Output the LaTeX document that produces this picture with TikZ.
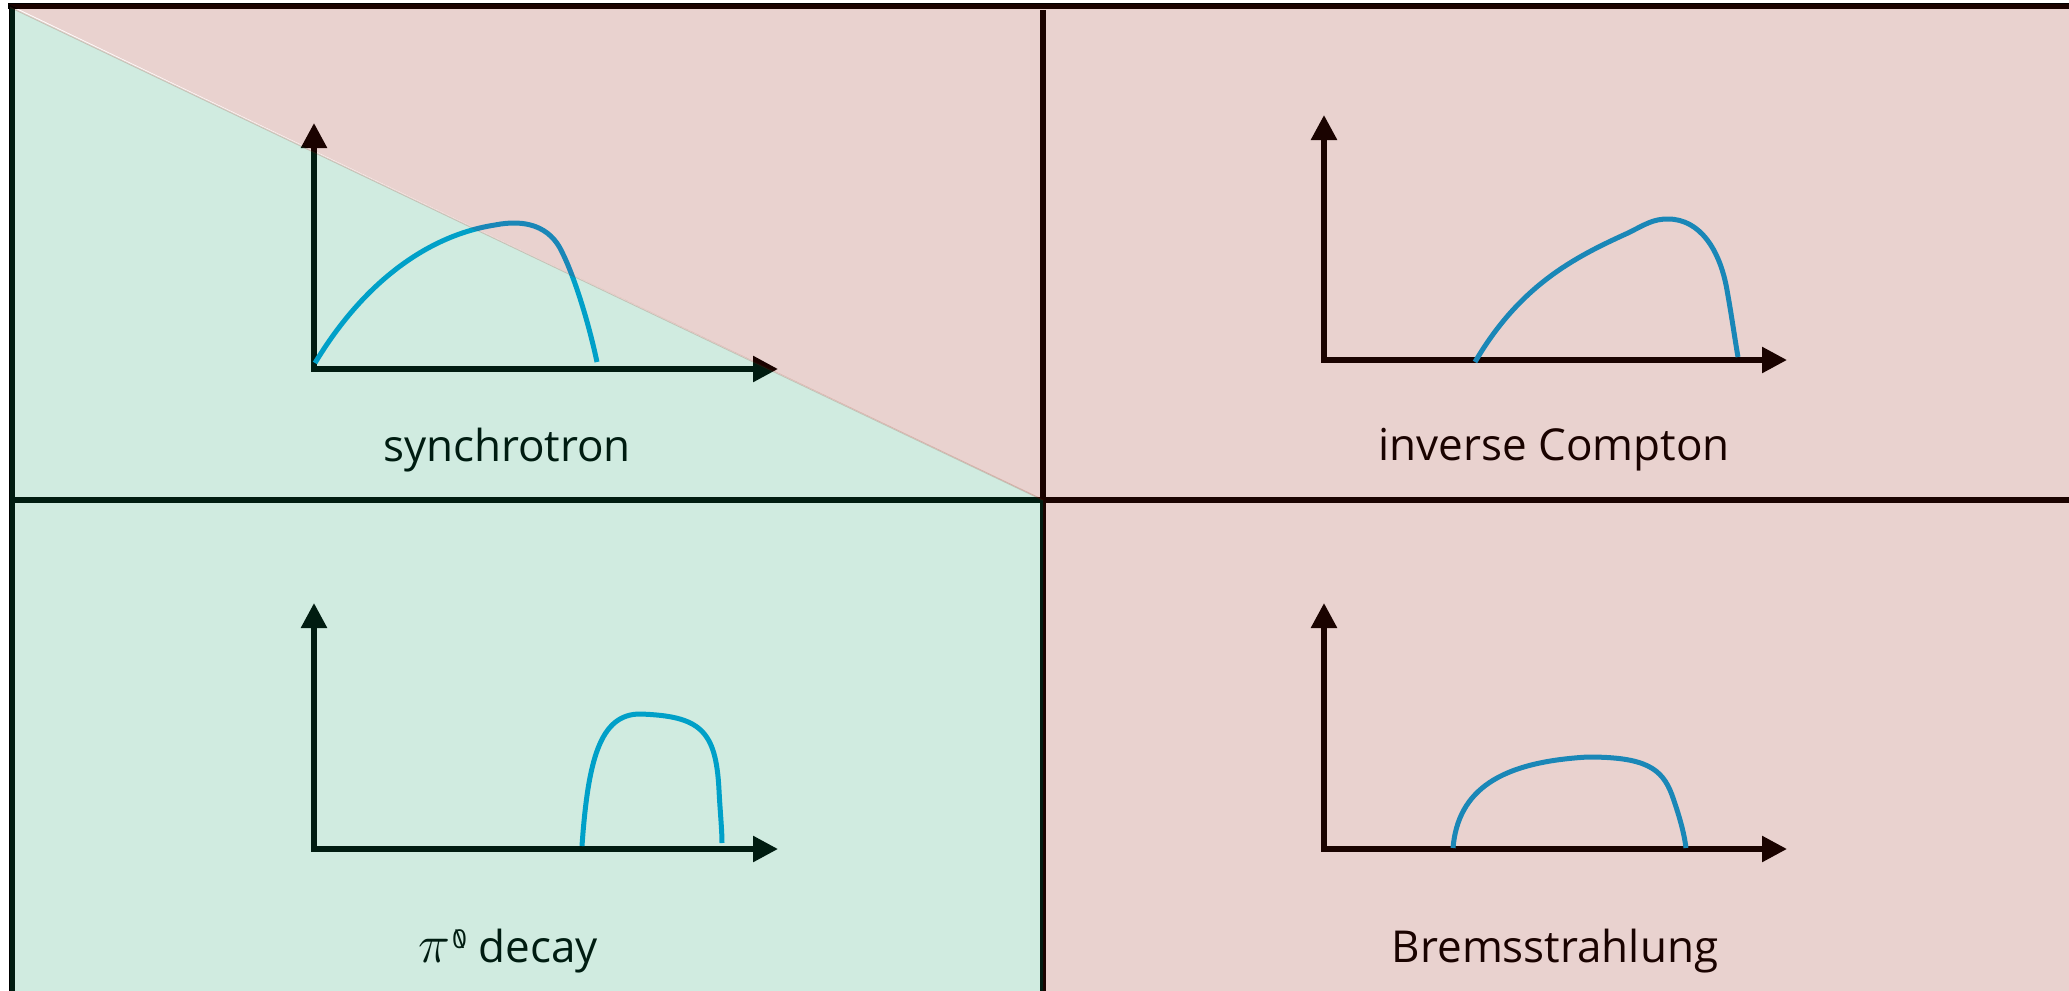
\documentclass[tikz,border=0pt]{standalone}
\usepackage{fontspec}
\setmainfont{Open Sans}
\usetikzlibrary{arrows.meta}
\definecolor{pinkov}{RGB}{139,18,0}
\definecolor{greenov}{RGB}{3,150,92}
\definecolor{curveblue}{RGB}{0,163,226}
\begin{document}
\begin{tikzpicture}[x=0.5pt,y=-0.5pt,
  gridline/.style={line width=2.6pt, black},
  axisline/.style={line width=2.8pt, black,
    {Triangle[length=12.5pt,width=12.5pt]}-{Triangle[length=12.5pt,width=12.5pt]}},
  spec/.style={line width=2.5pt, curveblue},
  lbl/.style={anchor=base, inner sep=0pt, font=\fontsize{22}{26}\selectfont},
  pinkfill/.style={fill=pinkov, fill opacity=0.19},
  greenfill/.style={fill=greenov, fill opacity=0.19}]
\useasboundingbox (0,0) rectangle (2069,991);

% frame and dividing lines
\coordinate (tl) at (8,6);
\coordinate (tr) at (2069,6);
\coordinate (lt) at (12,4);
\coordinate (lb) at (12,991);
\coordinate (mt) at (1043,10);
\coordinate (mb) at (1043,991);
\coordinate (hl) at (10,500);
\coordinate (hr) at (2069,500);
\draw[gridline] (tl) -- (tr);
\draw[gridline] (lt) -- (lb);
\draw[gridline] (mt) -- (mb);
\draw[gridline] (hl) -- (hr);

% axes
\coordinate (o1) at (314,369);  \coordinate (y1) at (314,123);  \coordinate (x1) at (778,369);
\coordinate (o2) at (1324,360); \coordinate (y2) at (1324,115); \coordinate (x2) at (1787,360);
\coordinate (o3) at (314,849);  \coordinate (y3) at (314,603);  \coordinate (x3) at (778,849);
\coordinate (o4) at (1324,849); \coordinate (y4) at (1324,603); \coordinate (x4) at (1787,849);
\draw[axisline] (y1) -- (o1) -- (x1);
\draw[axisline] (y2) -- (o2) -- (x2);
\draw[axisline] (y3) -- (o3) -- (x3);
\draw[axisline] (y4) -- (o4) -- (x4);

% spectra
% synchrotron
\draw[spec] (315,363) .. controls (365,280) and (430,235) .. (495,225)
  .. controls (525,219) and (550,226) .. (562,252)
  .. controls (574,276) and (588,320) .. (597,362);
% inverse Compton
\draw[spec] (1475,362) .. controls (1520,285) and (1575,257) .. (1628,233)
  .. controls (1646,224) and (1653,219) .. (1668,219)
  .. controls (1700,219) and (1720,250) .. (1727,290)
  .. controls (1732,318) and (1735,340) .. (1738,357);
% pi0 decay
\draw[spec] (582,846) .. controls (588,760) and (600,714) .. (640,714)
  .. controls (700,716) and (716,730) .. (719,790)
  .. controls (720,810) and (722,830) .. (722,843);
% Bremsstrahlung
\draw[spec] (1453,848) .. controls (1458,790) and (1500,762) .. (1588,757)
  .. controls (1645,757) and (1662,768) .. (1672,795)
  .. controls (1679,815) and (1684,832) .. (1686,848);

% labels
\node[lbl] (l1) at (507,461) {synchrotron};
\node[lbl] (l2) at (1554,460) {inverse Compton};
\node[lbl] (l3) at (508,962) {\scalebox{1.3}{$\pi$}\kern1pt\raisebox{7pt}{\fontsize{13}{14}\selectfont\ooalign{0\cr\hidewidth\textbackslash\hidewidth}} decay};
\node[lbl] (l4) at (1555,962) {Bremsstrahlung};

% coloured overlays
\coordinate (c0) at (8,4);
\coordinate (c1) at (2069,4);
\coordinate (c2) at (2069,991);
\coordinate (c3) at (1043,991);
\coordinate (c4) at (1043,500);
\coordinate (g0) at (10,7);
\coordinate (g1) at (10,991);
\fill[pinkfill] (c0) -- (c1) -- (c2) -- (c3) -- (c4) -- cycle;
\fill[greenfill] (g0) -- (c4) -- (c3) -- (g1) -- cycle;
\draw[draw=pinkov, draw opacity=0.19, line width=0.8pt] (g0) -- (c4);
\end{tikzpicture}
\end{document}
